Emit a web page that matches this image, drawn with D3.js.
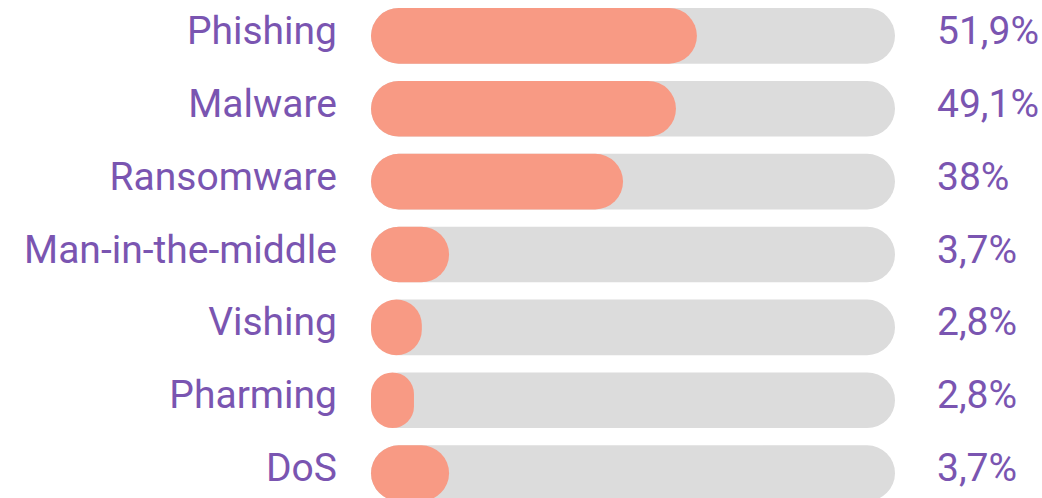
<!DOCTYPE html>
<html>
<head>
<meta charset="utf-8">
<script src="https://cdn.jsdelivr.net/npm/d3@7"></script>
<style>
  body { margin: 0; background: #fff; }
  svg text { font-family: Roboto, sans-serif; fill: #7a55b1; }
</style>
</head>
<body>
<div id="chart"></div>
<script>
// categories and the printed percentages
var categories = ['Phishing', 'Malware', 'Ransomware', 'Man-in-the-middle', 'Vishing', 'Pharming', 'DoS']
var valueLabels = ['51,9%', '49,1%', '38%', '3,7%', '2,8%', '2,8%', '3,7%']
// filled share of each track (percent)
var barValues = [62.2, 58.2, 48.1, 14.9, 9.7, 8.2, 14.9]

var width = 1042
var height = 498

var svg = d3.select('#chart').append('svg')
  .attr('width', width)
  .attr('height', height)

var x = d3.scaleLinear().domain([0, 100]).range([371, 895])
var y = d3.scaleBand().domain(categories).range([8, 501]).paddingInner(0.236).paddingOuter(0)

var bh = y.bandwidth()

// grey tracks
svg.selectAll('.track').data(categories)
  .enter().append('rect')
  .attr('class', 'track')
  .attr('x', x(0))
  .attr('y', d => y(d))
  .attr('width', x(100) - x(0))
  .attr('height', bh)
  .attr('rx', bh / 2)
  .style('fill', '#dcdcdc')

// filled bars
svg.selectAll('.bar').data(categories)
  .enter().append('rect')
  .attr('class', 'bar')
  .attr('x', x(0))
  .attr('y', d => y(d))
  .attr('width', (d, i) => x(barValues[i]) - x(0))
  .attr('height', bh)
  .attr('rx', (d, i) => Math.min(bh / 2, (x(barValues[i]) - x(0)) / 2))
  .style('fill', '#f89a84')

svg.selectAll('.cat').data(categories)
  .enter().append('text')
  .attr('class', 'cat')
  .attr('x', 337)
  .attr('y', d => y(d) + bh / 2 + 8)
  .attr('text-anchor', 'end')
  .style('font-size', '39px')
  .text(d => d)

svg.selectAll('.val').data(categories)
  .enter().append('text')
  .attr('class', 'val')
  .attr('x', 937)
  .attr('y', d => y(d) + bh / 2 + 8)
  .style('font-size', '39px')
  .text((d, i) => valueLabels[i])
</script>
</body>
</html>
